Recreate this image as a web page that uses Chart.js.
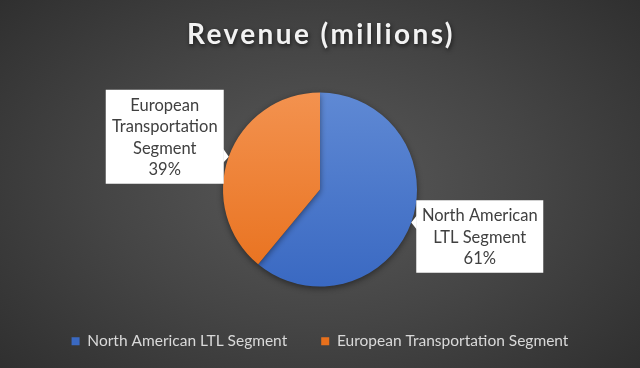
<!DOCTYPE html>
<html>
<head>
<meta charset="utf-8">
<script src="https://cdn.jsdelivr.net/npm/chart.js@4/dist/chart.umd.min.js"></script>
<style>
  html, body { margin: 0; padding: 0; }
  body {
    width: 640px; height: 368px; overflow: hidden;
    background: radial-gradient(ellipse 75% 85% at 50% 50%, #595959 0%, #454545 45%, #2a2a2a 100%);
  }
  #wrap { width: 640px; height: 368px; position: relative; }
</style>
</head>
<body>
<div id="wrap"><canvas id="pie"></canvas></div>
<script>
// Revenue split (millions) — values read as percentages of the pie
const categories = ['North American LTL Segment', 'European Transportation Segment'];
const shares     = [61, 39];
const labelLines = [['North American', 'LTL Segment'], ['European', 'Transportation', 'Segment']];
const titleText  = 'Revenue (millions)';

const FONT = "Lato, 'Open Sans', 'DejaVu Sans', sans-serif";
const PIE_R = 97;

// colour ramps, light at top of the pie, dark at bottom
const fills = [['#5f89d4', '#3a69c2'], ['#f3924f', '#e8701c']];

function sliceFill(ctx) {
  const chart = ctx.chart;
  const area = chart.chartArea;
  if (!area) return fills[ctx.dataIndex][0];
  const cy = (area.top + area.bottom) / 2;
  const g = chart.ctx.createLinearGradient(0, cy - PIE_R, 0, cy + PIE_R);
  g.addColorStop(0, fills[ctx.dataIndex][0]);
  g.addColorStop(1, fills[ctx.dataIndex][1]);
  return g;
}

// callout boxes: side the box sits on and vertical shift of its centre from the tip
const callouts = [
  { side: 'right', dy: 14, w: 127 },
  { side: 'left',  dy: -20, w: 118 },
];

const calloutPlugin = {
  id: 'callouts',
  afterDatasetsDraw(chart) {
    const ctx = chart.ctx;
    const meta = chart.getDatasetMeta(0);
    const total = shares.reduce((a, b) => a + b, 0);
    meta.data.forEach((arc, i) => {
      const mid = (arc.startAngle + arc.endAngle) / 2;
      const tx = arc.x + Math.cos(mid) * arc.outerRadius;
      const ty = arc.y + Math.sin(mid) * arc.outerRadius;
      const c = callouts[i];
      const lines = labelLines[i].concat([Math.round(shares[i] / total * 100) + '%']);
      const lh = 21.5;
      const h = lines.length * lh + 8;
      const cy = ty + c.dy;
      const x0 = c.side === 'right' ? tx + 5 : tx - 5 - c.w;
      const y0 = cy - h / 2;

      ctx.save();
      ctx.fillStyle = '#ffffff';
      ctx.beginPath();
      ctx.rect(x0, y0, c.w, h);
      ctx.fill();
      // little pointer towards the slice
      ctx.beginPath();
      if (c.side === 'right') {
        ctx.moveTo(x0 + 0.5, ty - 7);
        ctx.lineTo(tx, ty);
        ctx.lineTo(x0 + 0.5, ty + 7);
      } else {
        ctx.moveTo(x0 + c.w - 0.5, ty - 8);
        ctx.lineTo(tx, ty);
        ctx.lineTo(x0 + c.w - 0.5, ty + 6);
      }
      ctx.closePath();
      ctx.fill();

      ctx.fillStyle = '#404040';
      ctx.font = '16.5px ' + FONT;
      ctx.textAlign = 'center';
      ctx.textBaseline = 'middle';
      lines.forEach((t, k) => {
        ctx.fillText(t, x0 + c.w / 2, y0 + 5 + lh * (k + 0.5));
      });
      ctx.restore();
    });
  },
};

// soft shadow under the pie
const shadowPlugin = {
  id: 'pieShadow',
  beforeDatasetsDraw(chart) {
    const ctx = chart.ctx;
    ctx.save();
    ctx.shadowColor = 'rgba(0,0,0,0.45)';
    ctx.shadowBlur = 6;
    ctx.shadowOffsetY = 2;
  },
  afterDatasetsDraw(chart) {
    chart.ctx.restore();
  },
};

// title is laid out by the title plugin (transparent) and painted here,
// so it can get the letter spacing and drop shadow of the original
const titlePaint = {
  id: 'titlePaint',
  afterDraw(chart) {
    const tb = chart.titleBlock;
    if (!tb) return;
    const o = chart.options.plugins.title;
    const ctx = chart.ctx;
    ctx.save();
    ctx.font = 'bold ' + o.font.size + 'px ' + FONT;
    ctx.letterSpacing = '2.4px';
    ctx.textAlign = 'center';
    ctx.textBaseline = 'middle';
    ctx.shadowColor = 'rgba(0,0,0,0.6)';
    ctx.shadowBlur = 4;
    ctx.shadowOffsetX = 1;
    ctx.shadowOffsetY = 2;
    ctx.fillStyle = '#f2f2f2';
    const y = tb.top + o.padding.top + o.font.size * 1.2 / 2;
    ctx.fillText(titleText, (tb.left + tb.right) / 2 + 1, y);
    ctx.restore();
  },
};

new Chart(document.getElementById('pie'), {
  type: 'pie',
  data: {
    labels: categories,
    datasets: [{
      data: shares,
      backgroundColor: sliceFill,
      borderWidth: 0,
    }],
  },
  plugins: [shadowPlugin, calloutPlugin, titlePaint],
  options: {
    responsive: true,
    maintainAspectRatio: false,
    animation: false,
    radius: PIE_R,
    layout: { padding: { top: 0, bottom: 9, left: 0, right: 0 } },
    plugins: {
      tooltip: { enabled: false },
      title: {
        display: true,
        text: titleText,
        color: 'rgba(0,0,0,0)',
        font: { family: FONT, size: 28, weight: 'bold' },
        padding: { top: 18, bottom: 28 },
      },
      legend: {
        position: 'bottom',
        labels: {
          color: '#d9d9d9',
          font: { family: FONT, size: 15.5 },
          boxWidth: 8,
          boxHeight: 8,
          padding: 34,
        },
      },
    },
  },
});
</script>
</body>
</html>
